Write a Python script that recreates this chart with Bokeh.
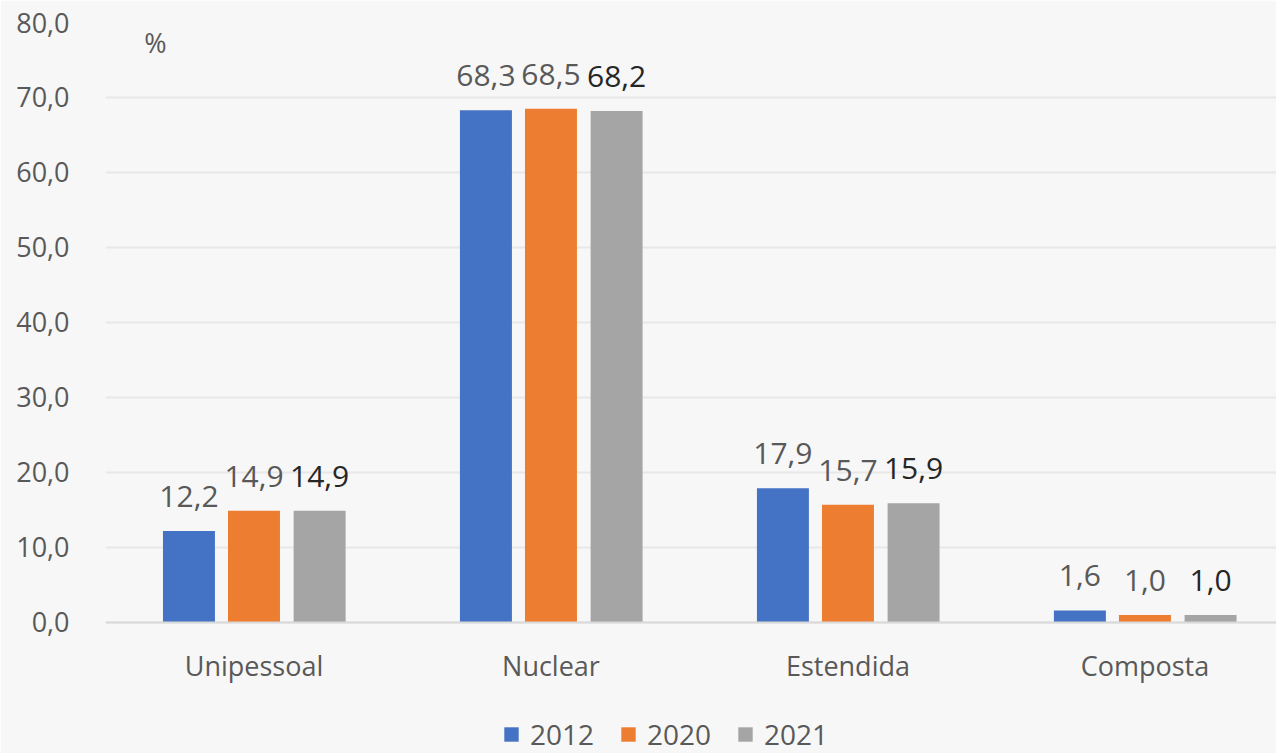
from bokeh.plotting import figure
from bokeh.models import ColumnDataSource, Range1d, LabelSet, Label, Legend, LegendItem, FixedTicker, Span
from bokeh.core.properties import value
from bokeh.embed import file_html
from bokeh.resources import INLINE

categories = ["Unipessoal", "Nuclear", "Estendida", "Composta"]
years = ["2012", "2020", "2021"]
v2012 = [12.2, 68.3, 17.9, 1.6]
v2020 = [14.9, 68.5, 15.7, 1.0]
v2021 = [14.9, 68.2, 15.9, 1.0]
colors = ["#4472C4", "#ED7D31", "#A5A5A5"]
label_colors = ["#595959", "#595959", "#262626"]
yticks = [0, 10, 20, 30, 40, 50, 60, 70, 80]

FONT = "Open Sans"
BG = "#f7f7f7"

# frame extends below the zero line so the category labels and legend sit inside it
p = figure(frame_width=1171, frame_height=731, output_backend="svg", toolbar_location=None,
           x_range=Range1d(0, 3.943), y_range=Range1d(-17.467, 80),
           min_border_left=105, min_border_top=22, min_border_right=0, min_border_bottom=0,
           background_fill_color=BG, border_fill_color=BG)
p.outline_line_color = None

centers = [i + 0.5 for i in range(len(categories))]
offsets = [-0.219, 0.0, 0.221]
series = [v2012, v2020, v2021]
items = []
for k, (vals, off, col, lc, yr) in enumerate(zip(series, offsets, colors, label_colors, years)):
    xs = [c + off for c in centers]
    src = ColumnDataSource(dict(x=xs, top=vals, lab=[f"{v:.1f}".replace(".", ",") for v in vals]))
    r = p.vbar(x="x", top="top", width=0.175, bottom=0, source=src, fill_color=col, line_color=None)
    items.append(LegendItem(label=yr, renderers=[r]))
    ls = LabelSet(x="x", y="top", text="lab", source=src, text_align="center",
                  text_baseline="alphabetic", y_offset=24, text_font=value(FONT),
                  text_font_size=value("30px"), text_color=value(lc))
    p.add_layout(ls)

p.add_layout(Label(x=0.168, y=77.3, text="%", text_align="center", text_baseline="middle",
                   text_font=FONT, text_font_size="27px", text_color="#595959"))

# category axis (zero line + labels)
p.xaxis.visible = False
p.add_layout(Span(location=0, dimension="width", line_color="#d9d9d9", line_width=2))
cat_src = ColumnDataSource(dict(x=centers, y=[0] * len(centers), lab=categories))
p.add_layout(LabelSet(x="x", y="y", text="lab", source=cat_src, text_align="center",
                      text_baseline="middle", y_offset=-43, text_font=value(FONT),
                      text_font_size=value("27px"), text_color=value("#595959")))

p.yaxis.ticker = FixedTicker(ticks=yticks)
p.yaxis.major_label_overrides = {t: f"{t:.1f}".replace(".", ",") for t in yticks}
p.yaxis.major_tick_line_color = None
p.yaxis.minor_tick_line_color = None
p.yaxis.axis_line_color = None
p.yaxis.major_label_standoff = 30
p.yaxis.major_label_text_font = FONT
p.yaxis.major_label_text_font_size = "27px"
p.yaxis.major_label_text_color = "#595959"

p.xgrid.grid_line_color = None
p.ygrid.grid_line_color = "#e8e8e8"
p.ygrid.grid_line_width = 2

legend = Legend(items=items, orientation="horizontal", location=(397, 0),
                label_text_font=FONT, label_text_font_size="28px", label_text_color="#595959",
                glyph_width=18, glyph_height=18, spacing=25, label_standoff=10,
                padding=0, margin=0, background_fill_alpha=0, border_line_color=None)
p.add_layout(legend, "center")

open("out.html", "w").write(file_html(p, INLINE))
